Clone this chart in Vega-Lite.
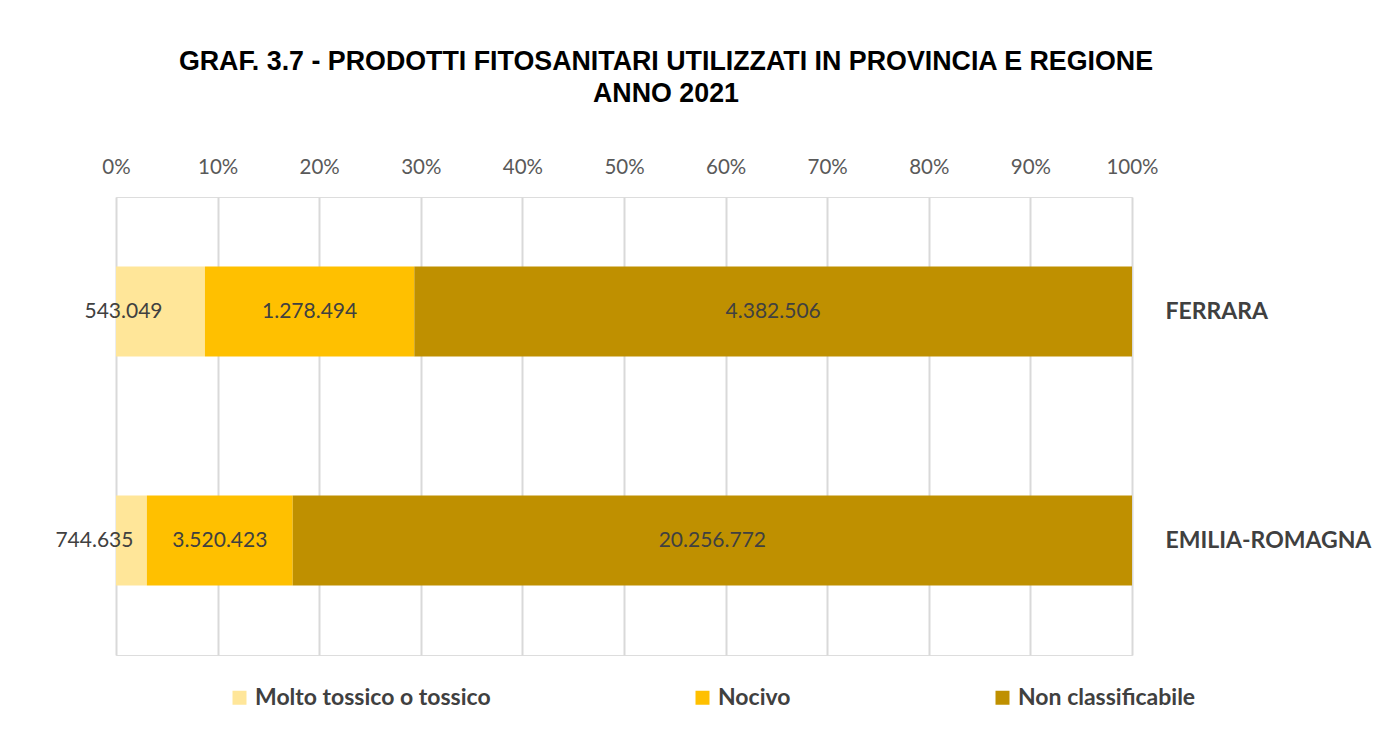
{
  "$schema": "https://vega.github.io/schema/vega-lite/v6.json",
  "autosize": "none",
  "width": 1016,
  "height": 458,
  "padding": {"left": 116, "top": 197, "right": 267, "bottom": 76},
  "background": "white",
  "title": {
    "text": ["GRAF. 3.7 - PRODOTTI FITOSANITARI UTILIZZATI IN PROVINCIA E REGIONE", "ANNO 2021"],
    "font": "Liberation Sans",
    "fontSize": 26.8,
    "fontWeight": "bold",
    "color": "#000000",
    "lineHeight": 32,
    "anchor": "middle",
    "dx": 42,
    "offset": 49
  },
  "data": {
    "values": [
      {"area": "FERRARA", "cat": "Molto tossico o tossico", "val": 543049, "lab": "543.049"},
      {"area": "FERRARA", "cat": "Nocivo", "val": 1278494, "lab": "1.278.494"},
      {"area": "FERRARA", "cat": "Non classificabile", "val": 4382506, "lab": "4.382.506"},
      {"area": "EMILIA-ROMAGNA", "cat": "Molto tossico o tossico", "val": 744635, "lab": "744.635"},
      {"area": "EMILIA-ROMAGNA", "cat": "Nocivo", "val": 3520423, "lab": "3.520.423"},
      {"area": "EMILIA-ROMAGNA", "cat": "Non classificabile", "val": 20256772, "lab": "20.256.772"}
    ]
  },
  "transform": [
    {"stack": "val", "groupby": ["area"], "sort": [{"field": "cat", "order": "ascending"}], "offset": "normalize", "as": ["x0", "x1"]},
    {"calculate": "(datum.x0 + datum.x1) / 2", "as": "xm"}
  ],
  "encoding": {
    "y": {
      "field": "area",
      "type": "nominal",
      "sort": ["FERRARA", "EMILIA-ROMAGNA"],
      "scale": {"paddingInner": 0.607, "paddingOuter": 0.3035},
      "axis": {
        "orient": "right",
        "title": null,
        "domain": false,
        "ticks": false,
        "grid": false,
        "labelPadding": 33,
        "labelLimit": 400,
        "labelFont": "Lato",
        "labelFontSize": 23,
        "labelFontWeight": "bold",
        "labelColor": "#404040"
      }
    }
  },
  "layer": [
    {
      "mark": {"type": "bar"},
      "encoding": {
        "x": {
          "field": "x0",
          "type": "quantitative",
          "scale": {"domain": [0, 1], "nice": false},
          "axis": {
            "orient": "top",
            "title": null,
            "values": [0, 0.1, 0.2, 0.3, 0.4, 0.5, 0.6, 0.7, 0.8, 0.9, 1],
            "format": ".0%",
            "domain": false,
            "ticks": false,
            "grid": true,
            "gridColor": "#d9d9d9",
            "gridWidth": 2,
            "labelPadding": 20,
            "labelFont": "Lato",
            "labelFontSize": 20.5,
            "labelColor": "#595959",
            "labelFlush": false
          }
        },
        "x2": {"field": "x1"},
        "color": {
          "field": "cat",
          "type": "nominal",
          "scale": {
            "domain": ["Molto tossico o tossico", "Nocivo", "Non classificabile"],
            "range": ["#FFE699", "#FFC000", "#BF9000"]
          },
          "legend": {
            "orient": "none",
            "direction": "horizontal",
            "legendX": 112,
            "legendY": 489,
            "title": null,
            "symbolType": "square",
            "symbolSize": 196,
            "symbolStrokeWidth": 0,
            "symbolOpacity": 1,
            "labelFont": "Lato",
            "labelFontSize": 23,
            "labelFontWeight": "bold",
            "labelColor": "#404040",
            "labelOffset": 4,
            "columnPadding": 200,
            "labelLimit": 400
          }
        }
      }
    },
    {
      "transform": [{"filter": "datum.cat != 'Molto tossico o tossico'"}],
      "mark": {"type": "text", "font": "Lato", "fontSize": 21, "color": "#404040", "align": "center", "baseline": "middle"},
      "encoding": {
        "x": {"field": "xm", "type": "quantitative"},
        "text": {"field": "lab"}
      }
    },
    {
      "transform": [{"filter": "datum.cat == 'Molto tossico o tossico'"}],
      "mark": {"type": "text", "font": "Lato", "fontSize": 21, "color": "#404040", "align": "center", "baseline": "middle", "dx": -37},
      "encoding": {
        "x": {"field": "xm", "type": "quantitative"},
        "text": {"field": "lab"}
      }
    }
  ]
}
